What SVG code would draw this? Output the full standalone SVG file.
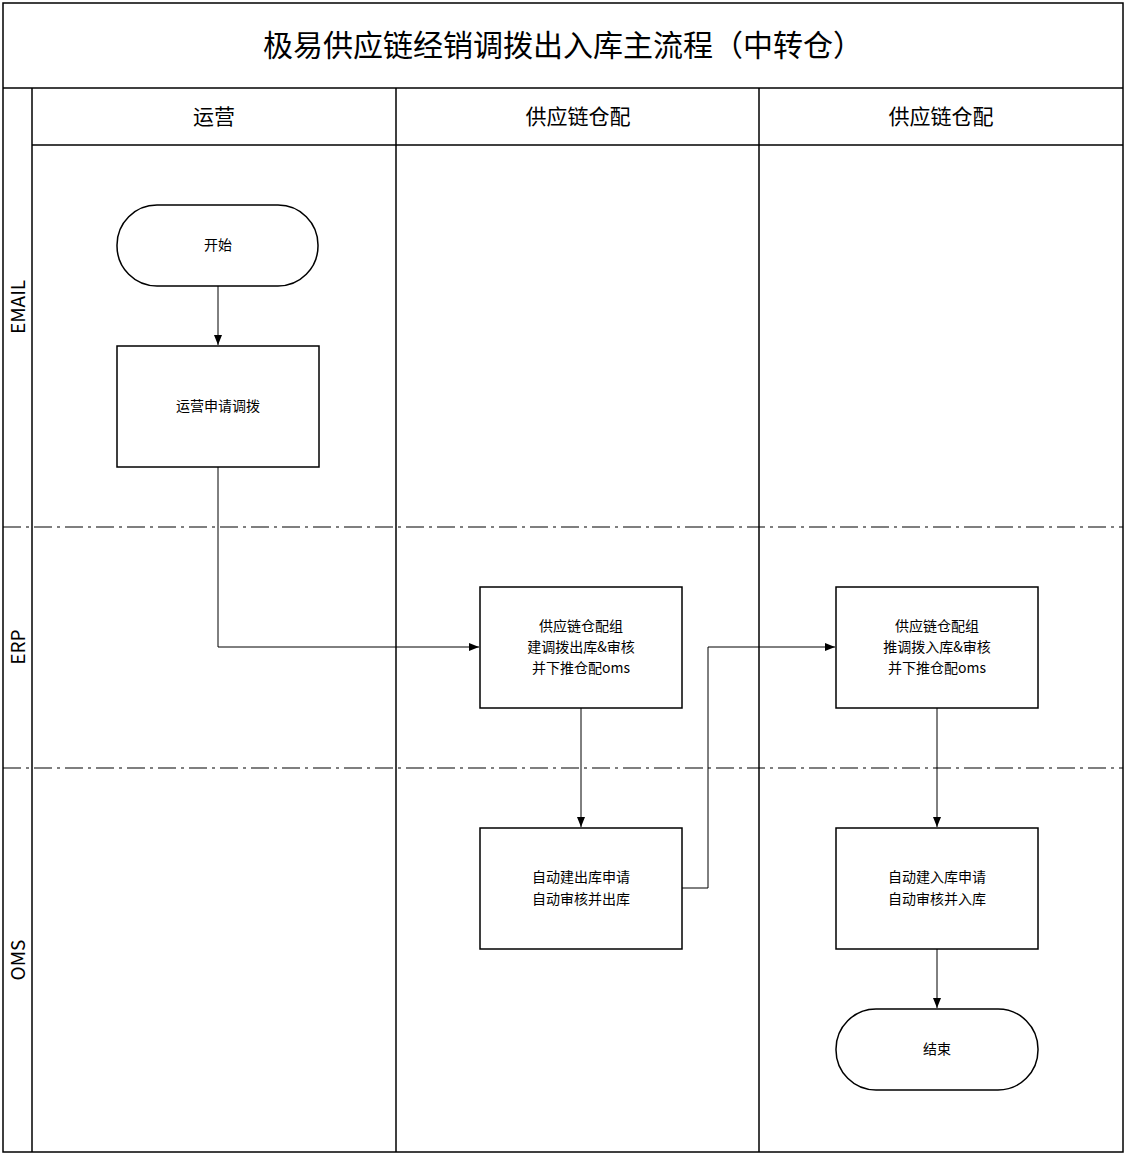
<svg xmlns="http://www.w3.org/2000/svg" width="1125" height="1154" viewBox="0 0 1125 1154">
<style>
text{font-family:"Noto Sans CJK SC","Liberation Sans",sans-serif;fill:#000;text-anchor:middle}
.ln{stroke:#000;stroke-width:1.5;fill:none}
.nd{fill:#fff;stroke:#000;stroke-width:1.5}
.dd{stroke:#000;stroke-width:1.2;stroke-dasharray:18,5,3,5;fill:none}
.t{font-size:14px}
.h{font-size:21px}
.c{stroke:#000;stroke-width:1;fill:none;marker-end:url(#a)}
</style>
<defs><marker id="a" markerWidth="10" markerHeight="8" refX="10" refY="4" orient="auto" markerUnits="userSpaceOnUse"><path d="M0,0L10,4L0,8z" fill="#000"/></marker></defs>
<rect width="1125" height="1154" fill="#fff"/>
<g id="frame">
<rect x="3" y="3" width="1120" height="1149" class="ln"/>
<line x1="3" y1="88" x2="1123" y2="88" class="ln"/>
<line x1="32" y1="145" x2="1123" y2="145" class="ln"/>
<line x1="32" y1="88" x2="32" y2="1152" class="ln"/>
<line x1="396" y1="88" x2="396" y2="1152" class="ln"/>
<line x1="759" y1="88" x2="759" y2="1152" class="ln"/>
<line x1="3" y1="527" x2="1123" y2="527" class="dd"/>
<line x1="3" y1="768" x2="1123" y2="768" class="dd"/>
<text x="563" y="56" style="font-size:30px">极易供应链经销调拨出入库主流程（中转仓）</text>
<text x="214" y="124" class="h">运营</text>
<text x="578" y="124" class="h">供应链仓配</text>
<text x="941" y="124" class="h">供应链仓配</text>
<text transform="translate(25,307) rotate(-90)" class="h" style="font-size:19px">EMAIL</text>
<text transform="translate(25,647) rotate(-90)" class="h" style="font-size:19px">ERP</text>
<text transform="translate(25,960) rotate(-90)" class="h" style="font-size:19px">OMS</text>
</g>
<g id="connectors">
<path d="M218,286V345" class="c"/>
<path d="M218,467V647H479" class="c"/>
<path d="M581,708V827" class="c"/>
<path d="M682,888H708V647H835" class="c"/>
<path d="M937,708V827" class="c"/>
<path d="M937,949V1008" class="c"/>
</g>
<g id="start"><rect x="117" y="205" width="201" height="81" rx="40" class="nd"/><text x="218" y="250" class="t">开始</text></g>
<g id="apply"><rect x="117" y="346" width="202" height="121" class="nd"/><text x="218" y="411" class="t">运营申请调拨</text></g>
<g id="erp1"><rect x="480" y="587" width="202" height="121" class="nd"/><text x="581" y="631" class="t">供应链仓配组</text><text x="581" y="652" class="t">建调拨出库&amp;审核</text><text x="581" y="673" class="t">并下推仓配oms</text></g>
<g id="erp2"><rect x="836" y="587" width="202" height="121" class="nd"/><text x="937" y="631" class="t">供应链仓配组</text><text x="937" y="652" class="t">推调拨入库&amp;审核</text><text x="937" y="673" class="t">并下推仓配oms</text></g>
<g id="oms1"><rect x="480" y="828" width="202" height="121" class="nd"/><text x="581" y="882" class="t">自动建出库申请</text><text x="581" y="904" class="t">自动审核并出库</text></g>
<g id="oms2"><rect x="836" y="828" width="202" height="121" class="nd"/><text x="937" y="882" class="t">自动建入库申请</text><text x="937" y="904" class="t">自动审核并入库</text></g>
<g id="end"><rect x="836" y="1009" width="202" height="81" rx="40" class="nd"/><text x="937" y="1054" class="t">结束</text></g>
</svg>
